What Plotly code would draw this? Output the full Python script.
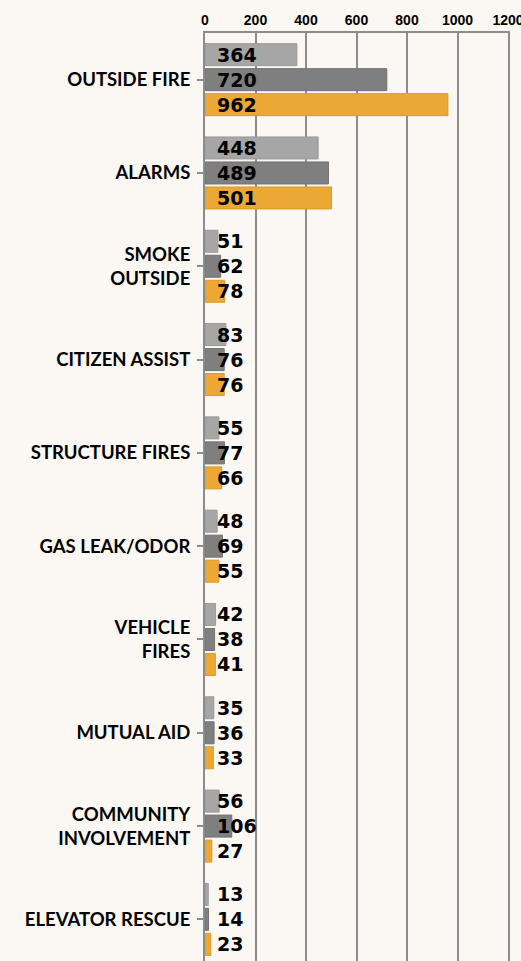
import plotly.graph_objects as go

categories = ["OUTSIDE FIRE", "ALARMS", "SMOKE<br>OUTSIDE", "CITIZEN ASSIST", "STRUCTURE FIRES",
              "GAS LEAK/ODOR", "VEHICLE<br>FIRES", "MUTUAL AID", "COMMUNITY<br>INVOLVEMENT", "ELEVATOR RESCUE"]
series_a = [364, 448, 51, 83, 55, 48, 42, 35, 56, 13]
series_b = [720, 489, 62, 76, 77, 69, 38, 36, 106, 14]
series_c = [962, 501, 78, 76, 66, 55, 41, 33, 27, 23]
series_names = ["Series A", "Series B", "Series C"]
x_ticks = [0, 200, 400, 600, 800, 1000, 1200]

colors = ["#A6A6A6", "#7F7F7F", "#EBA834"]
lines = ["#9A9A9A", "#737373", "#D99A2E"]

bargap = 0.196
fig = go.Figure()
all_series = [series_a, series_b, series_c]
idx = list(range(len(categories)))
for k, (vals, name) in enumerate(zip(all_series, series_names)):
    fig.add_trace(go.Bar(
        y=idx, x=vals, orientation="h", name=name,
        marker=dict(color=colors[k], line=dict(color=lines[k], width=1)),
        showlegend=False, hoverinfo="x",
    ))

slot = (1 - bargap) / 3
annotations = []
for k, vals in enumerate(all_series):
    for i, v in enumerate(vals):
        annotations.append(dict(
            x=0, y=i + (k - 1) * slot, xref="x", yref="y",
            text=str(v), showarrow=False, xanchor="left", yanchor="middle",
            xshift=10,
            font=dict(family="DejaVu Sans", size=19, color="#000000", weight="bold"),
        ))

fig.update_layout(
    width=521, height=961,
    margin=dict(l=205, r=13, t=33, b=0, autoexpand=False),
    paper_bgcolor="#FBF8F4", plot_bgcolor="#FBF8F4",
    barmode="group", bargap=bargap, bargroupgap=0.12,
    annotations=annotations,
)
fig.update_xaxes(
    side="top", range=[0, 1200], tickvals=x_ticks, ticktext=[str(t) for t in x_ticks],
    showgrid=True, gridcolor="#8C8C8C", gridwidth=2,
    showline=True, linecolor="#8C8C8C", linewidth=2,
    ticks="", zeroline=False, automargin=False, ticklabeloverflow="allow",
    tickfont=dict(family="Liberation Sans", size=14, color="#000000", weight="bold"),
)
fig.update_yaxes(
    tickmode="array", tickvals=idx, ticktext=categories,
    range=[9.446, -0.5],
    showline=True, linecolor="#8C8C8C", linewidth=2, mirror=True,
    ticks="outside", ticklen=6, tickcolor="#8C8C8C", tickwidth=2, tickson="boundaries",
    showgrid=False, zeroline=False, ticklabelstandoff=3, automargin=False,
    tickfont=dict(family="Lato", size=18.5, color="#000000", weight="bold"),
)

fig.write_html(
    "out.html",
    config={"displayModeBar": False},
    post_script="document.body.style.margin='0';document.body.style.overflow='hidden';"
                "document.documentElement.style.overflow='hidden';",
)
